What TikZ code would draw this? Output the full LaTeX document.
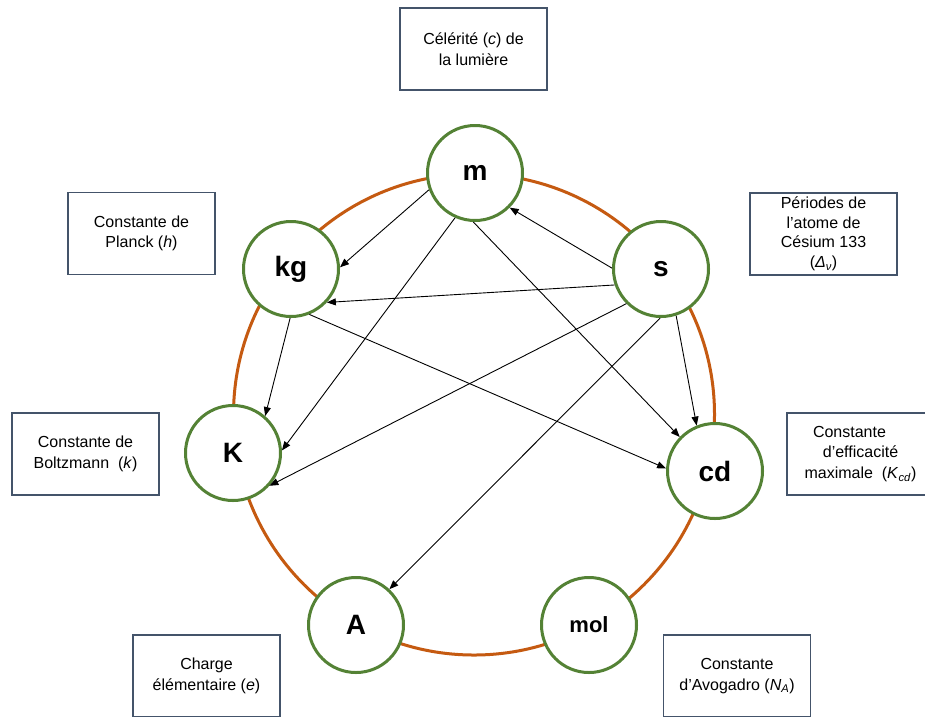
\documentclass[tikz,border=0pt]{standalone}
\usepackage{fontspec}
\setmainfont{Liberation Sans}
\usetikzlibrary{arrows.meta}
\definecolor{ringorange}{HTML}{C55A11}
\definecolor{unitgreen}{HTML}{548235}
\definecolor{boxedge}{HTML}{44546A}
\begin{document}
\begin{tikzpicture}[x=1pt,y=-1pt,
  unit/.style={circle, draw=unitgreen, line width=3pt, fill=white, minimum size=95pt, inner sep=0pt, font=\fontsize{28}{30}\selectfont\bfseries},
  constbox/.style={draw=boxedge, line width=1.2pt, fill=white, minimum width=147pt, minimum height=82pt, align=center, inner sep=0pt, font=\fontsize{16}{20.5}\selectfont},
  link/.style={line width=0.9pt, -{Triangle[length=9pt,width=7pt]}}]
\useasboundingbox (0,0) rectangle (925,716);
\clip (0,0) rectangle (925,716);
\fill[white] (0,0) rectangle (925,716);
% ring
\draw[ringorange, line width=3pt] (474,414.5) circle[radius=240.5];
% units
\node[unit] (m) at (475,173) {m};
\node[unit] (kg) at (291,269) {kg};
\node[unit] (s) at (661,269) {s};
\node[unit] (K) at (233,453) {K};
\node[unit] (cd) at (715,471) {cd};
\node[unit] (A) at (356,625) {A};
\node[unit, font=\fontsize{22}{24}\selectfont\bfseries] (mol) at (589,625) {mol};
% constants
\node[constbox] (bc) at (473.5,49) {Célérité (\textit{c}) de\\la lumière};
\node[constbox] (bh) at (141.5,233.5) {Constante de\\Planck (\textit{h})};
\node[constbox] (bk) at (85.5,454) {Constante de\\Boltzmann\ \ (\textit{k})};
\node[constbox, font=\fontsize{16}{19.5}\selectfont] (bnu) at (823.5,234) {Périodes de\\l’atome de\\Césium 133\\(\textit{Δ}\textsubscript{\textit{ν}})};
\node[constbox] (bkcd) at (860.5,454) {Constante\hspace*{22pt}\\d’efficacité\hspace*{30pt}\\maximale\ \ (\textit{K}\textsubscript{\textit{cd}})};
\node[constbox] (be) at (206.5,676) {Charge\\élémentaire (\textit{e})};
\node[constbox] (bna) at (737,676) {Constante\\d’Avogadro (\textit{N}\textsubscript{\textit{A}})};
% links
\draw[link] (m.200) -- (kg.2);
\draw[link] (m.246) -- (K.3);
\draw[link] (m.268) -- (cd.136);
\draw[link] (kg.269) -- (K.49);
\draw[link] (kg.292) -- (cd.177);
\draw[link] (s.179) -- (m.315);
\draw[link] (s.199) -- (kg.317);
\draw[link] (s.225) -- (K.318);
\draw[link] (s.269) -- (A.47);
\draw[link] (s.288) -- (cd.112);
\end{tikzpicture}
\end{document}
